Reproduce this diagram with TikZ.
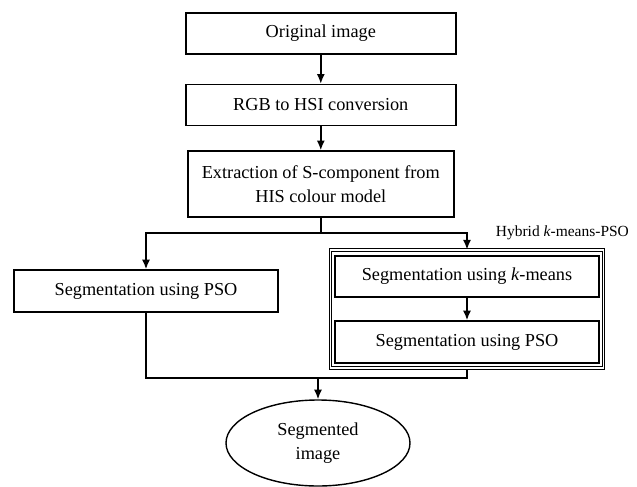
\documentclass[tikz,border=0pt]{standalone}
\usepackage{fontspec}
\setmainfont{Liberation Serif}
\usetikzlibrary{shapes,arrows.meta}
\pgfdeclarelayer{edgelayer}
\pgfdeclarelayer{nodelayer}
\pgfsetlayers{edgelayer,nodelayer,main}
\tikzset{font=\fontsize{13}{17.5}\selectfont}
\tikzstyle{none}=[inner sep=0pt]
\tikzstyle{box}=[rectangle,draw=black,line width=1.1pt,align=center,minimum height=1.025cm]
\tikzstyle{hybrid}=[rectangle,draw=black,line width=0.6pt,double,double distance=1.3pt,minimum width=6.825cm,minimum height=2.95cm]
\tikzstyle{result}=[ellipse,draw=black,line width=1pt,align=center,minimum width=4.6cm,minimum height=2.15cm]
\tikzstyle{tag}=[inner sep=0pt,font=\fontsize{11}{13}\selectfont]
\tikzstyle{wire}=[line width=1.1pt]
\tikzstyle{flow}=[line width=1.1pt,-{Latex[length=2.4mm,width=2mm]}]

\begin{document}
\begin{tikzpicture}
	\useasboundingbox (0,0) rectangle (15.925,-12.175);
	\begin{pgfonlayer}{nodelayer}
		\node [style=box,minimum width=6.75cm] (0) at (8.02, -0.84) {Original image};
		\node [style=box,minimum width=6.75cm] (1) at (8.02, -2.625) {RGB to HSI conversion};
		\node [style=box,minimum width=6.65cm,minimum height=1.65cm] (2) at (8.02, -4.6) {Extraction of S-component from\\HIS colour model};
		\node [style=none] (3) at (8.02, -5.825) {};
		\node [style=none] (4) at (3.65, -5.825) {};
		\node [style=none] (5) at (11.675, -5.825) {};
		\node [style=box,minimum width=6.6cm,minimum height=1.05cm] (6) at (3.65, -7.275) {Segmentation using PSO};
		\node [style=hybrid] (7) at (11.675, -7.725) {};
		\node [style=tag] (8) at (14.06, -5.825) {Hybrid \textit{k}-means-PSO};
		\node [style=box,minimum width=6.6cm] (9) at (11.675, -6.9125) {Segmentation using \textit{k}-means};
		\node [style=box,minimum width=6.6cm,minimum height=1.05cm] (10) at (11.675, -8.55) {Segmentation using PSO};
		\node [style=none] (11) at (3.65, -9.45) {};
		\node [style=none] (12) at (11.675, -9.45) {};
		\node [style=none] (13) at (7.95, -9.45) {};
		\node [style=result] (14) at (7.95, -11.075) {Segmented\\image};
	\end{pgfonlayer}
	\begin{pgfonlayer}{edgelayer}
		\draw [style=flow] (0) to (1);
		\draw [style=flow] (1) to (2);
		\draw [style=wire] (2) to (3.center);
		\draw [style=flow] (4.center) to (5.center) to (7);
		\draw [style=flow] (5.center) to (4.center) to (6);
		\draw [style=flow] (9) to (10);
		\draw [style=wire] (6) to (11.center) to (12.center) to (7);
		\draw [style=flow] (13.center) to (14);
	\end{pgfonlayer}
\end{tikzpicture}
\end{document}
